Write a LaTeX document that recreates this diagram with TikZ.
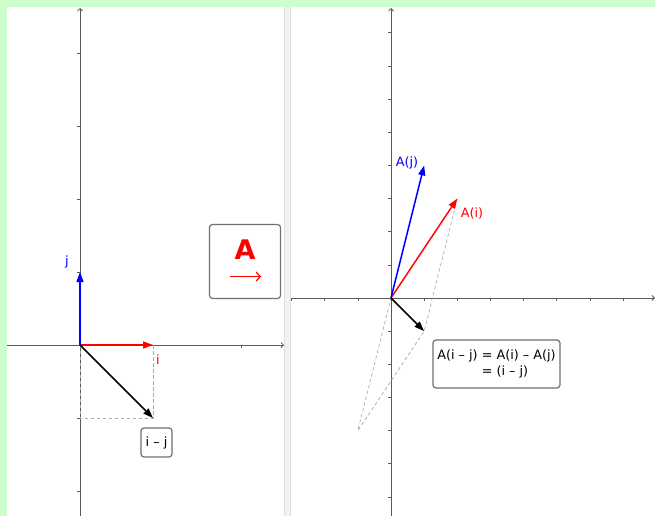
\documentclass[tikz,border=0pt]{standalone}
\usepackage{fontspec}
\setmainfont{DejaVu Sans}
\usetikzlibrary{arrows.meta, positioning, calc}
\definecolor{FrameGreen}{HTML}{CCFFCC}
\definecolor{AxisGray}{HTML}{5A5A5A}
\definecolor{GuideGray}{HTML}{ABABAB}
\definecolor{BoxGray}{HTML}{707070}
\definecolor{SplitGray}{HTML}{F2F2F2}
\definecolor{VecRed}{HTML}{FF0000}
\definecolor{VecBlue}{HTML}{0000FF}

\begin{document}
\begin{tikzpicture}[x=1pt, y=-1pt,
  axisline/.style={AxisGray, line width=0.8pt, -{Straight Barb[length=2.5pt, width=5pt]}},
  tickmark/.style={AxisGray, line width=0.7pt},
  vec/.style={line width=1.5pt, -{Triangle[length=10pt, width=7pt]}},
  guide/.style={GuideGray, line width=0.7pt, dash pattern=on 3.5pt off 2.5pt},
  labelbox/.style={draw=BoxGray, line width=1.2pt, rounded corners=3pt, fill=white, inner sep=3pt},
  font=\fontsize{12.8pt}{15.5pt}\selectfont]
  % frame
  \fill[FrameGreen] (0,0) rectangle (655,516);
  \fill[white] (7,7) rectangle (655,516);
  \fill[SplitGray] (284,7) rectangle (291,516);
  \draw[gray!25, line width=0.6pt] (284.5,7) -- (284.5,516) (290.5,7) -- (290.5,516);
  \useasboundingbox (0,0) rectangle (655,516);

  % left view: axes
  \coordinate (lxS) at (7,345);   \coordinate (lxE) at (284,345);
  \coordinate (lyS) at (80,516);  \coordinate (lyE) at (80,8);
  \draw[axisline] (lxS) -- (lxE);
  \draw[axisline] (lyS) -- (lyE);
  \foreach \k in {-4,...,2}{\draw[tickmark] (77,{345+73*\k}) -- (80,{345+73*\k});}
  \draw[tickmark] (241,345) -- (241,348);

  % left view: i, j and i - j
  \begin{scope}[shift={(80,345)}, x=73pt, y=73pt]
    \coordinate (origL) at (0,0);
    \coordinate (tipI) at (1,0);
    \coordinate (tipJ) at (0,1);
    \coordinate (tipIJ) at (1,-1);
    \coordinate (footIJ) at (0,-1);
    \draw[guide] (tipI) -- (tipIJ) -- (footIJ) -- (origL);
    \draw[vec, VecRed] (origL) -- (tipI);
    \draw[vec, VecBlue] (origL) -- (tipJ);
    \draw[vec, black] (origL) -- (tipIJ);
  \end{scope}
  \node[text=VecBlue] (labJ) at (67,262) {j};
  \node[text=VecRed] (labI) at (158,360) {i};
  \node[labelbox, minimum width=31pt, minimum height=29pt] (boxIJ) at (156.5,442.5) {i – j};

  % the map A
  \node[labelbox, minimum width=71pt, minimum height=74pt] (boxMap) at (245,261.5) {};
  \node[text=VecRed, font=\bfseries\fontsize{27pt}{27pt}\selectfont] (mapA) at (245,250) {A};
  \coordinate (mapArrS) at (230,276.5); \coordinate (mapArrE) at (261,276.5);
  \draw[VecRed, line width=1.2pt, -{Straight Barb[length=4pt, width=9pt]}] (mapArrS) -- (mapArrE);

  % right view: axes
  \coordinate (rxS) at (292,298); \coordinate (rxE) at (655,298);
  \coordinate (ryS) at (391,516); \coordinate (ryE) at (391,8);
  \draw[axisline] (rxS) -- (rxE);
  \draw[axisline] (ryS) -- (ryE);
  \foreach \k in {-3,...,7}{\draw[tickmark] ({391+33.15*\k},298) -- ({391+33.15*\k},301);}
  \foreach \k in {-6,...,8}{\draw[tickmark] (388,{298-33.15*\k}) -- (391,{298-33.15*\k});}

  % right view: images under A
  \begin{scope}[shift={(391,298)}, x=33.15pt, y=33.15pt]
    \coordinate (origR) at (0,0);
    \coordinate (tipAi) at (2,3);
    \coordinate (tipAj) at (1,4);
    \coordinate (tipAij) at (1,-1);
    \coordinate (negAj) at (-1,-4);
    \draw[guide] (tipAi) -- (tipAij) -- (negAj) -- (origR);
    \draw[vec, VecRed] (origR) -- (tipAi);
    \draw[vec, VecBlue] (origR) -- (tipAj);
    \draw[vec, black] (origR) -- (tipAij);
  \end{scope}
  \node[text=VecBlue] (labAj) at (407,163) {A(j)};
  \node[text=VecRed] (labAi) at (472,213) {A(i)};
  \node[labelbox, align=left, minimum width=127pt, minimum height=48pt] (boxAij) at (496.5,364)
    {A(i – j) = A(i) – A(j)\\\phantom{A(i – j) }= (i – j)};
\end{tikzpicture}
\end{document}
